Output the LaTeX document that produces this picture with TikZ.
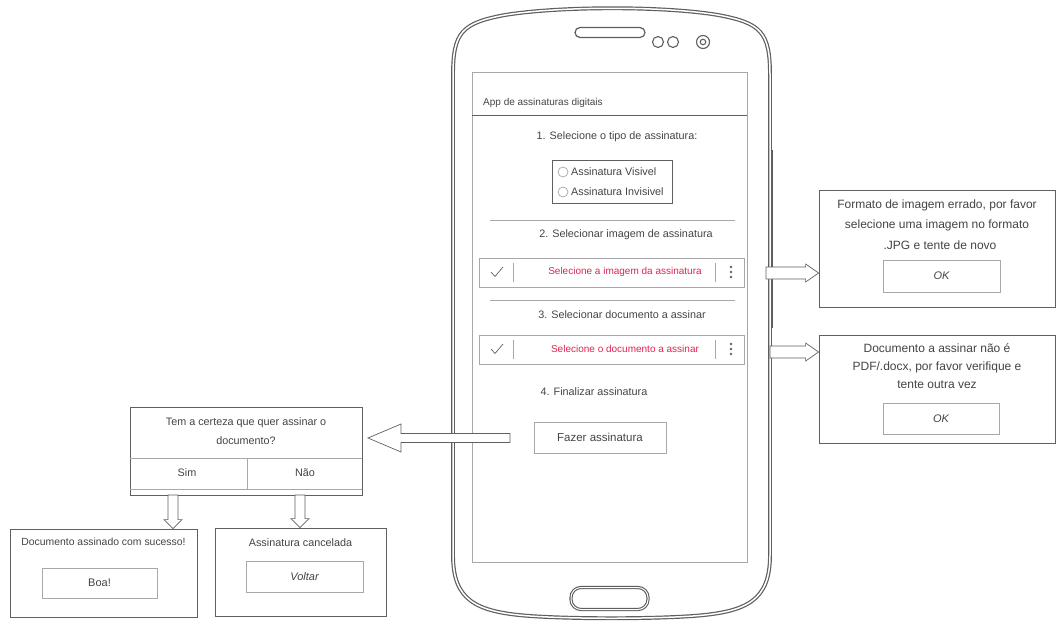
\documentclass[tikz,border=0pt]{standalone}
\usepackage{fontspec}
\setmainfont{Liberation Sans}
\usetikzlibrary{calc}

\definecolor{ink}{HTML}{444444}
\definecolor{frame}{HTML}{606060}
\definecolor{soft}{HTML}{A8A8A8}
\definecolor{shell}{HTML}{5E5E5E}
\definecolor{hint}{RGB}{225,35,80}

\tikzset{
  lbl/.style={text=ink, inner sep=0pt, font=\fontsize{10.8}{13}\selectfont},
  hintlbl/.style={lbl, text=hint, font=\fontsize{10}{12}\selectfont},
  dlglbl/.style={lbl, font=\fontsize{10.8}{13}\selectfont},
  errlbl/.style={lbl, font=\fontsize{12}{14}\selectfont},
  dlg/.style={draw=frame, line width=0.8pt, fill=white, inner sep=0pt},
  btn/.style={draw=soft, line width=0.7pt, inner sep=0pt},
  sepline/.style={draw=soft, line width=0.7pt},
  divline/.style={draw=frame, line width=0.7pt},
  radio/.style={circle, draw=soft, line width=0.7pt, minimum size=10pt, inner sep=0pt},
  dot/.style={circle, fill=frame, minimum size=2.6pt, inner sep=0pt},
  % hollow block arrow: shaft half width, head half width, head length
  hollowarrow/.style n args={3}{draw=frame, line width=0.7pt, fill=white, to path={
    ($(\tikztostart)!#1!90:(\tikztotarget)$)
    -- ($($(\tikztotarget)!#3!(\tikztostart)$)!#1!90:(\tikztotarget)$)
    -- ($($(\tikztotarget)!#3!(\tikztostart)$)!#2!90:(\tikztotarget)$)
    -- (\tikztotarget)
    -- ($($(\tikztotarget)!#3!(\tikztostart)$)!#2!-90:(\tikztotarget)$)
    -- ($($(\tikztotarget)!#3!(\tikztostart)$)!#1!-90:(\tikztotarget)$)
    -- ($(\tikztostart)!#1!-90:(\tikztotarget)$) -- cycle}},
}

\begin{document}
\begin{tikzpicture}[x=1pt, y=-1pt]
\useasboundingbox (0,0) rectangle (1057,624);

% ---------- phone body ----------
\draw[draw=shell, line width=1.2pt, double=white, double distance=1.5pt]
  (453,75) .. controls (453,32) and (462,23) .. (505,15)
  .. controls (560,6) and (665,6) .. (718,15)
  .. controls (761,23) and (770,32) .. (770,75)
  -- (770,555) .. controls (770,600) and (748,612) .. (693,616)
  .. controls (650,619) and (573,619) .. (530,616)
  .. controls (475,612) and (453,600) .. (453,555) -- cycle;
\draw[draw=shell, line width=0.7pt] (772.5,150) -- (772.5,328);

\node[draw=shell, line width=1.2pt, rounded corners=5pt, minimum width=70pt, minimum height=10pt, inner sep=0pt] (speaker) at (610,32.5) {};
\node[circle, draw=shell, line width=1.1pt, minimum size=11pt, inner sep=0pt] (sensorA) at (658,42) {};
\node[circle, draw=shell, line width=1.1pt, minimum size=11pt, inner sep=0pt] (sensorB) at (673,42) {};
\node[circle, draw=shell, line width=1.1pt, minimum size=13pt, inner sep=0pt] (camera) at (703,42) {};
\node[circle, draw=shell, line width=1.1pt, minimum size=5.5pt, inner sep=0pt] (lens) at (703,42) {};
\node[draw=shell, line width=1.1pt, double=white, double distance=1pt, rounded corners=10pt, minimum width=77pt, minimum height=22pt, inner sep=0pt] (home) at (609.5,598.5) {};

% ---------- screen ----------
\node[draw=soft, line width=0.8pt, minimum width=275pt, minimum height=490pt, inner sep=0pt] (screen) at (609.5,317) {};
\draw[divline] (screen.west |- 0,115) -- (screen.east |- 0,115);
\node[lbl, anchor=west, font=\fontsize{10}{12}\selectfont] (apptitle) at (483,103) {App de assinaturas digitais};

\node[lbl] (step1) at (617,137) {1. Selecione o tipo de assinatura:};
\node[draw=frame, line width=0.7pt, minimum width=120pt, minimum height=43pt, inner sep=0pt] (typebox) at (612,181.5) {};
\node[radio] (radioA) at (563,172) {};
\node[lbl, anchor=west] (visA) at (571,172) {Assinatura Visivel};
\node[radio] (radioB) at (563,192) {};
\node[lbl, anchor=west] (visB) at (571,192) {Assinatura Invisivel};

\draw[sepline] (490,220) -- (735,220);
\node[lbl] (step2) at (626,235) {2. Selecionar imagem de assinatura};
\node[btn, minimum width=265pt, minimum height=29pt] (imgfield) at (611.5,272.5) {};
\draw[draw=frame, line width=0.7pt] (491,272) -- (495,276.5) -- (503,267);
\draw[sepline] (513,263) -- (513,282);
\node[hintlbl] (imghint) at (625,272) {Selecione a imagem da assinatura};
\draw[sepline] (715,263) -- (715,282);
\node[dot] (imgdotA) at (731,267) {};
\node[dot] (imgdotB) at (731,272) {};
\node[dot] (imgdotC) at (731,277) {};

\draw[sepline] (490,300) -- (735,300);
\node[lbl] (step3) at (622,315) {3. Selecionar documento a assinar};
\node[btn, minimum width=265pt, minimum height=29pt] (docfield) at (611.5,349.5) {};
\draw[draw=frame, line width=0.7pt] (491,349) -- (495,353.5) -- (503,344);
\draw[sepline] (513,340) -- (513,359);
\node[hintlbl] (dochint) at (625,349) {Selecione o documento a assinar};
\draw[sepline] (715,340) -- (715,359);
\node[dot] (docdotA) at (731,344) {};
\node[dot] (docdotB) at (731,349) {};
\node[dot] (docdotC) at (731,354) {};

\node[lbl] (step4) at (594,392) {4. Finalizar assinatura};
\node[btn, minimum width=132pt, minimum height=31pt, font=\fontsize{11.5}{13}\selectfont, text=ink] (signbtn) at (600,437.5) {Fazer assinatura};

% ---------- confirmation dialog ----------
\node[dlg, minimum width=232pt, minimum height=88pt] (confirm) at (246,451) {};
\node[dlglbl] (askA) at (246,423) {Tem a certeza que quer assinar o};
\node[dlglbl] (askB) at (246,441) {documento?};
\draw[sepline] (confirm.west |- 0,458) -- (confirm.east |- 0,458);
\draw[sepline] (confirm.west |- 0,489) -- (confirm.east |- 0,489);
\draw[sepline] (247,458) -- (247,489);
\node[dlglbl] (yes) at (187,473) {Sim};
\node[dlglbl] (no) at (305,473) {Não};

% ---------- result dialogs ----------
\node[dlg, minimum width=187pt, minimum height=88pt] (done) at (103.5,573) {};
\node[dlglbl, font=\fontsize{10.4}{12}\selectfont] (donemsg) at (103.5,542) {Documento assinado com sucesso!};
\node[btn, minimum width=115pt, minimum height=30pt, font=\fontsize{11}{13}\selectfont, text=ink] (donebtn) at (99.5,583) {Boa!};

\node[dlg, minimum width=171pt, minimum height=88pt] (cancel) at (300.5,572) {};
\node[dlglbl] (cancelmsg) at (300.5,543) {Assinatura cancelada};
\node[btn, minimum width=117pt, minimum height=31pt, font=\fontsize{11}{13}\itshape, text=ink] (cancelbtn) at (304.5,576.5) {Voltar};

% ---------- error dialogs ----------
\node[dlg, minimum width=236pt, minimum height=117pt] (imgerr) at (937,248.5) {};
\node[errlbl] (imgerrA) at (937,205) {Formato de imagem errado, por favor};
\node[errlbl] (imgerrB) at (937,225) {selecione uma imagem no formato};
\node[errlbl] (imgerrC) at (940,245) {.JPG e tente de novo};
\node[btn, minimum width=117pt, minimum height=32pt, font=\fontsize{11}{13}\itshape, text=ink] (imgok) at (941.5,276) {OK};

\node[dlg, minimum width=236pt, minimum height=108pt] (docerr) at (937,389) {};
\node[errlbl] (docerrA) at (937,348) {Documento a assinar não é};
\node[errlbl] (docerrB) at (937,367) {PDF/.docx, por favor verifique e};
\node[errlbl] (docerrC) at (937,385) {tente outra vez};
\node[btn, minimum width=116pt, minimum height=31pt, font=\fontsize{11}{13}\itshape, text=ink] (docok) at (941,418.5) {OK};

% ---------- flow arrows ----------
\coordinate (signtail) at (510,438);
\coordinate (signtip) at (368,438);
\coordinate (imgtail) at (766,273);
\coordinate (doctail) at (770,352);
\coordinate (yestail) at (173,495);
\coordinate (notail) at (300,495);

\draw[hollowarrow={4.5pt}{14pt}{33pt}] (signtail) to (signtip);
\draw[hollowarrow={6pt}{9pt}{13pt}] (imgtail) to (imgerr.west |- imgtail);
\draw[hollowarrow={6pt}{9pt}{13pt}] (doctail) to (docerr.west |- doctail);
\draw[hollowarrow={5pt}{9pt}{9pt}] (yestail) to (yestail |- done.north);
\draw[hollowarrow={5pt}{9pt}{9pt}] (notail) to (notail |- cancel.north);
\end{tikzpicture}
\end{document}
